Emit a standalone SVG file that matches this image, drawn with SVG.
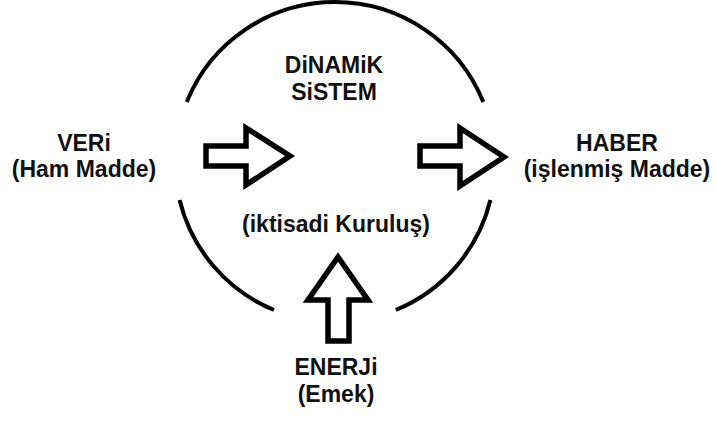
<svg xmlns="http://www.w3.org/2000/svg" width="715" height="421" viewBox="0 0 715 421">
  <style>
    .arc { fill: none; stroke: #000; stroke-width: 4; }
    .arrow { fill: #fff; stroke: #000; stroke-width: 5.5; stroke-linejoin: miter; stroke-miterlimit: 10; }
    .t { font-family: "Liberation Sans", Arial, sans-serif; font-weight: bold; font-size: 23px; fill: #111; text-anchor: middle; }
  </style>
  <rect width="715" height="421" fill="#fff"/>
  <g id="system">
    <path class="arc" d="M186.7,102 A160,160 0 0 1 483.3,102"/>
    <path class="arc" d="M179.6,200 A160,160 0 0 0 274,310"/>
    <path class="arc" d="M490.4,200 A160,160 0 0 1 395.8,310"/>
    <text class="t" x="334" y="73">DiNAMiK</text>
    <text class="t" x="334" y="100">SiSTEM</text>
    <text class="t" x="336" y="232">(iktisadi Kuruluş)</text>
  </g>
  <g id="veri">
    <text class="t" x="84" y="151">VERi</text>
    <text class="t" x="84" y="177">(Ham Madde)</text>
  </g>
  <g id="haber">
    <text class="t" x="617" y="151">HABER</text>
    <text class="t" x="617" y="177">(işlenmiş Madde)</text>
  </g>
  <g id="enerji">
    <text class="t" x="336" y="375">ENERJi</text>
    <text class="t" x="336" y="402">(Emek)</text>
  </g>
  <g id="connectors">
    <polygon class="arrow" points="206,146 246,146 246,128 290,156 246,185 246,166 206,166"/>
    <polygon class="arrow" points="420,146 460,146 460,128 504,157 460,186 460,166 420,166"/>
    <polygon class="arrow" points="338,257 368,300 349,300 349,341 328,341 328,300 308,300"/>
  </g>
</svg>
